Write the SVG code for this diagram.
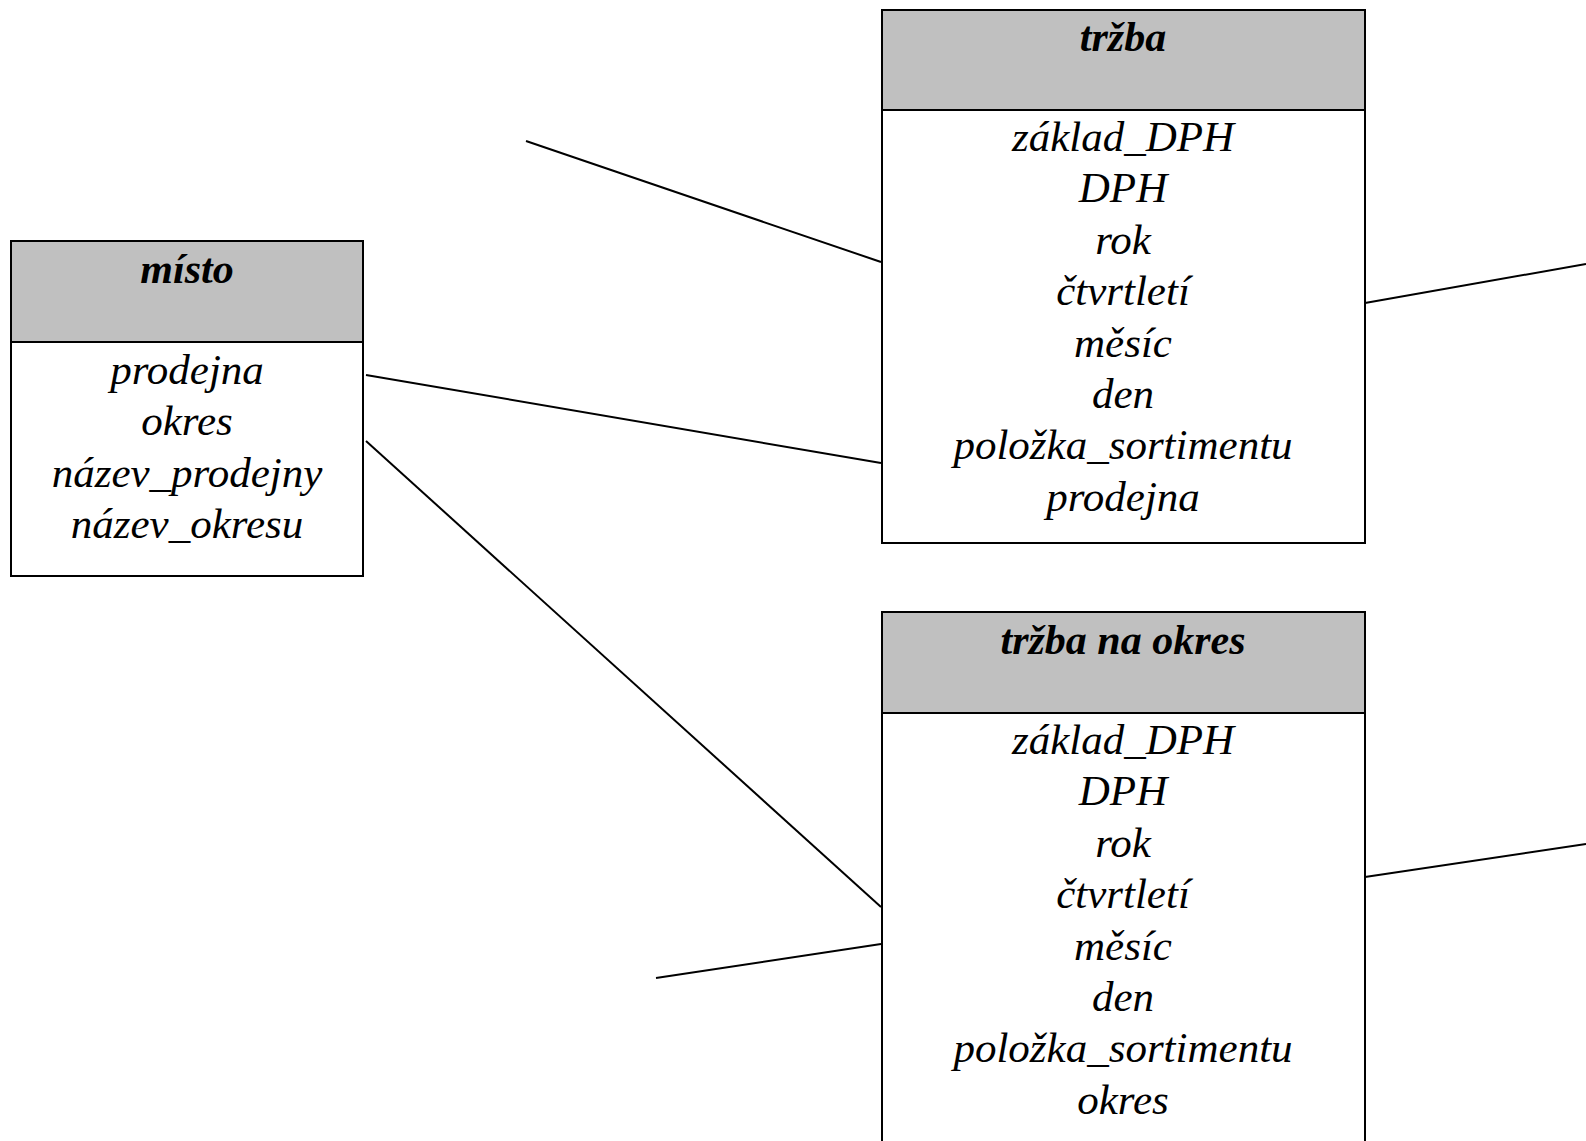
<svg xmlns="http://www.w3.org/2000/svg" width="1586" height="1141" viewBox="0 0 1586 1141">
  <style>
    .box { fill: #ffffff; stroke: #000000; stroke-width: 2; }
    .head { fill: #c0c0c0; stroke: #000000; stroke-width: 2; }
    .title { font-family: "Liberation Serif", "Times New Roman", serif; font-size: 42px; font-weight: bold; font-style: italic; text-anchor: middle; fill: #000; }
    .attr { font-family: "Liberation Serif", "Times New Roman", serif; font-size: 43px; font-style: italic; text-anchor: middle; fill: #000; }
    .link { stroke: #000000; stroke-width: 2; fill: none; }
  </style>
  <rect width="1586" height="1141" fill="#ffffff"/>

  <!-- connectors -->
  <g id="connectors">
    <line class="link" x1="526" y1="141" x2="881" y2="262"/>
    <line class="link" x1="366" y1="375" x2="881" y2="463"/>
    <line class="link" x1="366" y1="441" x2="881" y2="907"/>
    <line class="link" x1="656" y1="978" x2="881" y2="944"/>
    <line class="link" x1="1365" y1="303" x2="1586" y2="264"/>
    <line class="link" x1="1365" y1="877" x2="1586" y2="844"/>
  </g>

  <!-- entity: místo -->
  <g id="misto">
    <rect class="box" x="11" y="241" width="352" height="335"/>
    <rect class="head" x="11" y="241" width="352" height="101"/>
    <text class="title" x="187" y="283">místo</text>
    <text class="attr" x="187" y="384">prodejna</text>
    <text class="attr" x="187" y="435">okres</text>
    <text class="attr" x="187" y="487">název_prodejny</text>
    <text class="attr" x="187" y="538">název_okresu</text>
  </g>

  <!-- entity: tržba -->
  <g id="trzba">
    <rect class="box" x="882" y="10" width="483" height="533"/>
    <rect class="head" x="882" y="10" width="483" height="100"/>
    <text class="title" x="1123" y="51">tržba</text>
    <text class="attr" x="1123" y="151">základ_DPH</text>
    <text class="attr" x="1123" y="202">DPH</text>
    <text class="attr" x="1123" y="254">rok</text>
    <text class="attr" x="1123" y="305">čtvrtletí</text>
    <text class="attr" x="1123" y="357">měsíc</text>
    <text class="attr" x="1123" y="408">den</text>
    <text class="attr" x="1123" y="459">položka_sortimentu</text>
    <text class="attr" x="1123" y="511">prodejna</text>
  </g>

  <!-- entity: tržba na okres -->
  <g id="trzba-na-okres">
    <rect class="box" x="882" y="612" width="483" height="560"/>
    <rect class="head" x="882" y="612" width="483" height="101"/>
    <text class="title" x="1123" y="654">tržba na okres</text>
    <text class="attr" x="1123" y="754">základ_DPH</text>
    <text class="attr" x="1123" y="805">DPH</text>
    <text class="attr" x="1123" y="857">rok</text>
    <text class="attr" x="1123" y="908">čtvrtletí</text>
    <text class="attr" x="1123" y="960">měsíc</text>
    <text class="attr" x="1123" y="1011">den</text>
    <text class="attr" x="1123" y="1062">položka_sortimentu</text>
    <text class="attr" x="1123" y="1114">okres</text>
  </g>
</svg>
